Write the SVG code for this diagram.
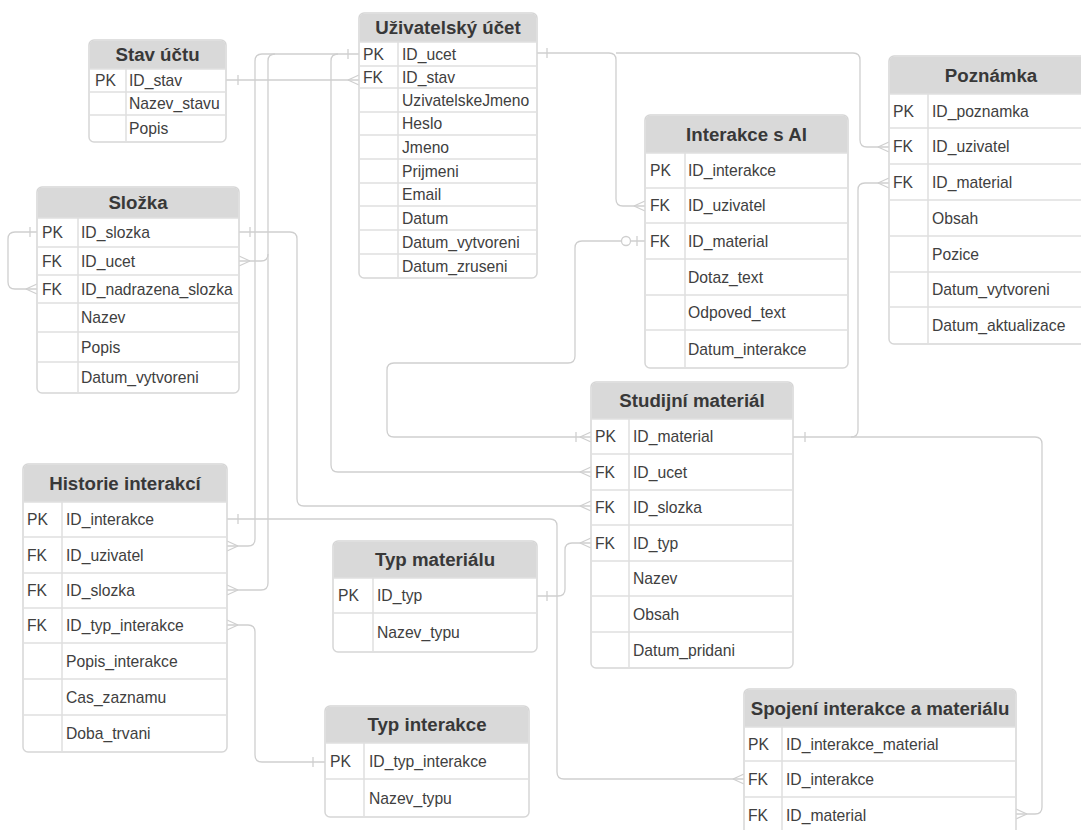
<svg xmlns="http://www.w3.org/2000/svg" xmlns:xlink="http://www.w3.org/1999/xlink" width="1081" height="830" viewBox="0 0 1081 830">
<style>
.tb{fill:#fff;stroke:#d6d6d6;stroke-width:1.5}
.hd{fill:#d9d9d9}
.sep{stroke:#e0e0e0;stroke-width:1.5;fill:none}
.ht{font-family:"Liberation Sans",Arial,sans-serif;font-weight:bold;font-size:18.7px;fill:#383838;text-anchor:middle}
.rt{font-family:"Liberation Sans",Arial,sans-serif;font-size:15.7px;fill:#404040}
.cn{fill:none;stroke:#cfcfcf;stroke-width:1.3}
.mk{fill:none;stroke:#cfcfcf;stroke-width:1.3}
</style>
<defs>
<path id="cfL" class="mk" d="M-11,0 L0,-5 M-11,0 L0,5"/>
<path id="cfR" class="mk" d="M11,0 L0,-5 M11,0 L0,5"/>
<path id="bar" class="mk" d="M0,-5 V5"/>
</defs>
<rect width="1081" height="830" fill="#fff"/>
<g id="connectors">
<path class="cn" d="M226,80 H359"/>
<use href="#bar" x="238" y="80"/><use href="#cfL" x="359" y="80"/>
<path class="cn" d="M359,54 H262 Q255,54 255,61 V539 Q255,546 248,546 H227"/>
<use href="#bar" x="348" y="54"/><use href="#cfR" x="227" y="546"/>
<path class="cn" d="M275,54 Q268,54 268,61 V583 Q268,590 261,590 H227"/>
<use href="#cfR" x="227" y="590"/>
<path class="cn" d="M239,261 H261 Q268,261 268,254"/>
<use href="#cfR" x="239" y="261"/>
<path class="cn" d="M239,232 H290 Q297,232 297,239 V499 Q297,506 304,506 H591"/>
<use href="#bar" x="250" y="232"/><use href="#cfL" x="591" y="506"/>
<path class="cn" d="M338,54 Q331,54 331,61 V465 Q331,472 338,472 H591"/>
<use href="#cfL" x="591" y="472"/>
<path class="cn" d="M537,53 H609 Q616,53 616,60 V199 Q616,206 623,206 H645"/>
<use href="#bar" x="547" y="53"/><use href="#cfL" x="645" y="206"/>
<path class="cn" d="M616,53 H853 Q860,53 860,60 V140 Q860,147 867,147 H889"/>
<use href="#cfL" x="889" y="147"/>
<path class="cn" d="M645,241 H582 Q575,241 575,248 V356 Q575,363 568,363 H394 Q387,363 387,370 V430 Q387,437 394,437 H591"/>
<circle cx="626" cy="241" r="4.5" fill="#fff" stroke="#cfcfcf" stroke-width="1.3"/>
<use href="#bar" x="637" y="241"/><use href="#bar" x="576" y="437"/><use href="#cfL" x="591" y="437"/>
<path class="cn" d="M793,437 H1035 Q1042,437 1042,444 V807 Q1042,814 1035,814 H1016"/>
<use href="#bar" x="805" y="437"/><use href="#cfR" x="1016" y="814"/>
<path class="cn" d="M889,183 H865 Q858,183 858,190 V430 Q858,437 851,437"/>
<use href="#cfL" x="889" y="183"/>
<path class="cn" d="M227,519 H550 Q557,519 557,526 V772 Q557,779 564,779 H744"/>
<use href="#bar" x="238" y="519"/><use href="#cfL" x="744" y="779"/>
<path class="cn" d="M591,543 H572 Q565,543 565,550 V589 Q565,596 558,596 H537"/>
<use href="#cfL" x="591" y="543"/><use href="#bar" x="547" y="596"/>
<path class="cn" d="M227,625 H248 Q255,625 255,632 V755 Q255,762 262,762 H325"/>
<use href="#cfR" x="227" y="625"/><use href="#bar" x="313" y="762"/>
<path class="cn" d="M37,232 H15 Q8,232 8,239 V282 Q8,289 15,289 H37"/>
<use href="#bar" x="30" y="232"/><use href="#cfL" x="37" y="289"/>
</g>

<g id="stav-uctu">
<rect class="tb" x="89" y="40" width="137" height="102" rx="5"/>
<path class="hd" d="M89.75,69 V45 Q89.75,40.75 94,40.75 H221 Q225.25,40.75 225.25,45 V69 Z"/>
<path class="sep" d="M89,69 H226 M89,92 H226 M89,115 H226 M126,69 V142"/>
<text class="ht" x="157.5" y="61">Stav účtu</text>
<text class="rt" x="95" y="86">PK</text><text class="rt" x="129" y="86">ID_stav</text>
<text class="rt" x="129" y="109">Nazev_stavu</text>
<text class="rt" x="129" y="134">Popis</text>
</g>

<g id="uzivatelsky-ucet">
<rect class="tb" x="359" y="13" width="178" height="265" rx="5"/>
<path class="hd" d="M359.75,42 V18 Q359.75,13.75 364,13.75 H532 Q536.25,13.75 536.25,18 V42 Z"/>
<path class="sep" d="M359,42 H537 M359,66 H537 M359,88 H537 M359,112 H537 M359,135 H537 M359,159 H537 M359,183 H537 M359,206 H537 M359,230 H537 M359,254 H537 M398,42 V278"/>
<text class="ht" x="448" y="34">Uživatelský účet</text>
<text class="rt" x="363" y="59.5">PK</text><text class="rt" x="402" y="59.5">ID_ucet</text>
<text class="rt" x="363" y="82.5">FK</text><text class="rt" x="402" y="82.5">ID_stav</text>
<text class="rt" x="402" y="105.5">UzivatelskeJmeno</text>
<text class="rt" x="402" y="129">Heslo</text>
<text class="rt" x="402" y="152.5">Jmeno</text>
<text class="rt" x="402" y="176.5">Prijmeni</text>
<text class="rt" x="402" y="200">Email</text>
<text class="rt" x="402" y="223.5">Datum</text>
<text class="rt" x="402" y="247.5">Datum_vytvoreni</text>
<text class="rt" x="402" y="271.5">Datum_zruseni</text>
</g>

<g id="interakce-s-ai">
<rect class="tb" x="645" y="115" width="203" height="253" rx="5"/>
<path class="hd" d="M645.75,153 V120 Q645.75,115.75 650,115.75 H843 Q847.25,115.75 847.25,120 V153 Z"/>
<path class="sep" d="M645,153 H848 M645,188 H848 M645,223 H848 M645,259 H848 M645,295 H848 M645,330 H848 M685,153 V368"/>
<text class="ht" x="746.5" y="140.5">Interakce s AI</text>
<text class="rt" x="650" y="176">PK</text><text class="rt" x="688" y="176">ID_interakce</text>
<text class="rt" x="650" y="211">FK</text><text class="rt" x="688" y="211">ID_uzivatel</text>
<text class="rt" x="650" y="246.5">FK</text><text class="rt" x="688" y="246.5">ID_material</text>
<text class="rt" x="688" y="282.5">Dotaz_text</text>
<text class="rt" x="688" y="318">Odpoved_text</text>
<text class="rt" x="688" y="354.5">Datum_interakce</text>
</g>

<g id="poznamka">
<rect class="tb" x="889" y="56" width="204" height="288" rx="5"/>
<path class="hd" d="M889.75,94 V61 Q889.75,56.75 894,56.75 H1088 Q1092.25,56.75 1092.25,61 V94 Z"/>
<path class="sep" d="M889,94 H1093 M889,128 H1093 M889,164 H1093 M889,200 H1093 M889,236 H1093 M889,272 H1093 M889,307 H1093 M928,94 V344"/>
<text class="ht" x="991" y="81.5">Poznámka</text>
<text class="rt" x="893" y="116.5">PK</text><text class="rt" x="932" y="116.5">ID_poznamka</text>
<text class="rt" x="893" y="151.5">FK</text><text class="rt" x="932" y="151.5">ID_uzivatel</text>
<text class="rt" x="893" y="187.5">FK</text><text class="rt" x="932" y="187.5">ID_material</text>
<text class="rt" x="932" y="223.5">Obsah</text>
<text class="rt" x="932" y="259.5">Pozice</text>
<text class="rt" x="932" y="295">Datum_vytvoreni</text>
<text class="rt" x="932" y="331">Datum_aktualizace</text>
</g>

<g id="slozka">
<rect class="tb" x="37" y="187" width="202" height="206" rx="5"/>
<path class="hd" d="M37.75,218 V192 Q37.75,187.75 42,187.75 H234 Q238.25,187.75 238.25,192 V218 Z"/>
<path class="sep" d="M37,218 H239 M37,247 H239 M37,275 H239 M37,303 H239 M37,332 H239 M37,362 H239 M78,218 V393"/>
<text class="ht" x="138" y="209">Složka</text>
<text class="rt" x="42" y="238">PK</text><text class="rt" x="81" y="238">ID_slozka</text>
<text class="rt" x="42" y="266.5">FK</text><text class="rt" x="81" y="266.5">ID_ucet</text>
<text class="rt" x="42" y="294.5">FK</text><text class="rt" x="81" y="294.5">ID_nadrazena_slozka</text>
<text class="rt" x="81" y="323">Nazev</text>
<text class="rt" x="81" y="352.5">Popis</text>
<text class="rt" x="81" y="383">Datum_vytvoreni</text>
</g>

<g id="historie-interakci">
<rect class="tb" x="23" y="464" width="204" height="288" rx="5"/>
<path class="hd" d="M23.75,502 V469 Q23.75,464.75 28,464.75 H222 Q226.25,464.75 226.25,469 V502 Z"/>
<path class="sep" d="M23,502 H227 M23,537 H227 M23,573 H227 M23,608 H227 M23,643 H227 M23,679 H227 M23,715 H227 M62,502 V752"/>
<text class="ht" x="125" y="489.5">Historie interakcí</text>
<text class="rt" x="27" y="525">PK</text><text class="rt" x="66" y="525">ID_interakce</text>
<text class="rt" x="27" y="560.5">FK</text><text class="rt" x="66" y="560.5">ID_uzivatel</text>
<text class="rt" x="27" y="596">FK</text><text class="rt" x="66" y="596">ID_slozka</text>
<text class="rt" x="27" y="631">FK</text><text class="rt" x="66" y="631">ID_typ_interakce</text>
<text class="rt" x="66" y="666.5">Popis_interakce</text>
<text class="rt" x="66" y="702.5">Cas_zaznamu</text>
<text class="rt" x="66" y="739">Doba_trvani</text>
</g>

<g id="studijni-material">
<rect class="tb" x="591" y="382" width="202" height="286" rx="5"/>
<path class="hd" d="M591.75,419 V387 Q591.75,382.75 596,382.75 H788 Q792.25,382.75 792.25,387 V419 Z"/>
<path class="sep" d="M591,419 H793 M591,454 H793 M591,490 H793 M591,525 H793 M591,561 H793 M591,596 H793 M591,632 H793 M629,419 V668"/>
<text class="ht" x="692" y="407">Studijní materiál</text>
<text class="rt" x="595" y="442">PK</text><text class="rt" x="633" y="442">ID_material</text>
<text class="rt" x="595" y="477.5">FK</text><text class="rt" x="633" y="477.5">ID_ucet</text>
<text class="rt" x="595" y="513">FK</text><text class="rt" x="633" y="513">ID_slozka</text>
<text class="rt" x="595" y="548.5">FK</text><text class="rt" x="633" y="548.5">ID_typ</text>
<text class="rt" x="633" y="584">Nazev</text>
<text class="rt" x="633" y="619.5">Obsah</text>
<text class="rt" x="633" y="655.5">Datum_pridani</text>
</g>

<g id="typ-materialu">
<rect class="tb" x="333" y="541" width="204" height="111" rx="5"/>
<path class="hd" d="M333.75,578 V546 Q333.75,541.75 338,541.75 H532 Q536.25,541.75 536.25,546 V578 Z"/>
<path class="sep" d="M333,578 H537 M333,613 H537 M373,578 V652"/>
<text class="ht" x="435" y="566">Typ materiálu</text>
<text class="rt" x="338" y="601">PK</text><text class="rt" x="377" y="601">ID_typ</text>
<text class="rt" x="377" y="638">Nazev_typu</text>
</g>

<g id="typ-interakce">
<rect class="tb" x="325" y="706" width="204" height="111" rx="5"/>
<path class="hd" d="M325.75,743 V711 Q325.75,706.75 330,706.75 H524 Q528.25,706.75 528.25,711 V743 Z"/>
<path class="sep" d="M325,743 H529 M325,779 H529 M364,743 V817"/>
<text class="ht" x="427" y="731">Typ interakce</text>
<text class="rt" x="330" y="766.5">PK</text><text class="rt" x="369" y="766.5">ID_typ_interakce</text>
<text class="rt" x="369" y="803.5">Nazev_typu</text>
</g>

<g id="spojeni-interakce-a-materialu">
<rect class="tb" x="744" y="689" width="272" height="150" rx="5"/>
<path class="hd" d="M744.75,727 V694 Q744.75,689.75 749,689.75 H1011 Q1015.25,689.75 1015.25,694 V727 Z"/>
<path class="sep" d="M744,727 H1016 M744,761 H1016 M744,797 H1016 M782,727 V839"/>
<text class="ht" x="880" y="714.5">Spojení interakce a materiálu</text>
<text class="rt" x="748" y="749.5">PK</text><text class="rt" x="786" y="749.5">ID_interakce_material</text>
<text class="rt" x="748" y="784.5">FK</text><text class="rt" x="786" y="784.5">ID_interakce</text>
<text class="rt" x="748" y="820.5">FK</text><text class="rt" x="786" y="820.5">ID_material</text>
</g>
</svg>
